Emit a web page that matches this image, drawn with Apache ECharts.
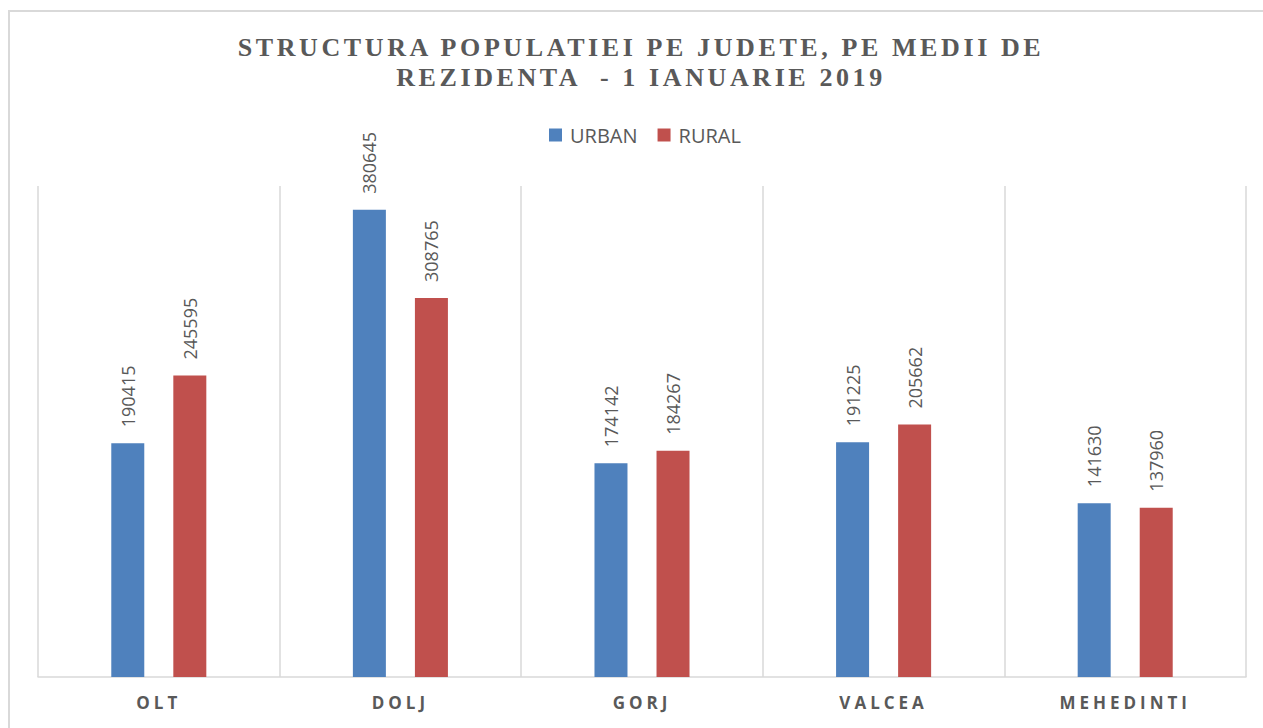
<!DOCTYPE html>
<html>
<head>
<meta charset="utf-8">
<script src="https://cdn.jsdelivr.net/npm/echarts@6/dist/echarts.min.js"></script>
<style>
  html, body { margin: 0; padding: 0; background: #fff; }
  #main { width: 1263px; height: 728px; }
  /* spaced lettering like the original (svg renderer) */
  #main text[style*="Liberation Serif"] { letter-spacing: 3.6px; }
  #main text[style*="bold"][style*="Open Sans"] { letter-spacing: 4px; }
</style>
</head>
<body>
<div id="main"></div>
<script>
// data
const categories = ["OLT", "DOLJ", "GORJ", "VALCEA", "MEHEDINTI"];
const urban = [190415, 380645, 174142, 191225, 141630];
const rural = [245595, 308765, 184267, 205662, 137960];
const seriesNames = ["URBAN", "RURAL"];

const gray = "#595959";

const barLabel = {
  show: true,
  position: "top",
  rotate: 90,
  align: "left",
  verticalAlign: "middle",
  distance: 16,
  color: gray,
  fontFamily: "Open Sans",
  fontSize: 18
};

const chart = echarts.init(document.getElementById("main"), null, { renderer: "svg" });

chart.setOption({
  animation: false,
  backgroundColor: "#fff",
  title: {
    text: "STRUCTURA POPULATIEI PE JUDETE, PE MEDII DE\nREZIDENTA  - 1 IANUARIE 2019",
    left: 641,
    textAlign: "center",
    top: 32,
    padding: 0,
    textStyle: {
      fontFamily: "Liberation Serif",
      fontWeight: "bold",
      fontSize: 26,
      lineHeight: 30,
      color: gray
    }
  },
  legend: {
    data: seriesNames,
    left: 549,
    top: 125,
    padding: 0,
    itemWidth: 13,
    itemHeight: 13,
    itemGap: 20,
    icon: "rect",
    textStyle: { fontFamily: "Open Sans", fontSize: 20, color: gray, padding: [0, 0, 0, 3] }
  },
  graphic: [{
    type: "rect",
    shape: { x: 9, y: 11, width: 1400, height: 900 },
    style: { fill: "none", stroke: "#d9d9d9", lineWidth: 2 },
    silent: true
  }],
  grid: { left: 38, right: 17, top: 186, bottom: 51 },
  xAxis: {
    type: "category",
    data: categories,
    axisLine: { lineStyle: { color: "#d9d9d9", width: 1.5 } },
    axisTick: { show: false },
    splitLine: { show: true, lineStyle: { color: "#d9d9d9", width: 1.5 } },
    axisLabel: {
      margin: 17,
      color: gray,
      fontFamily: "Open Sans",
      fontWeight: "bold",
      fontSize: 17
    }
  },
  yAxis: {
    type: "value",
    min: 0,
    max: 400000,
    show: false,
    splitLine: { show: false }
  },
  series: [
    {
      name: seriesNames[0],
      type: "bar",
      data: urban,
      barWidth: 33,
      barGap: "88%",
      itemStyle: { color: "#4f81bd" },
      label: barLabel
    },
    {
      name: seriesNames[1],
      type: "bar",
      data: rural,
      barWidth: 33,
      itemStyle: { color: "#c0504d" },
      label: barLabel
    }
  ]
});
</script>
</body>
</html>
